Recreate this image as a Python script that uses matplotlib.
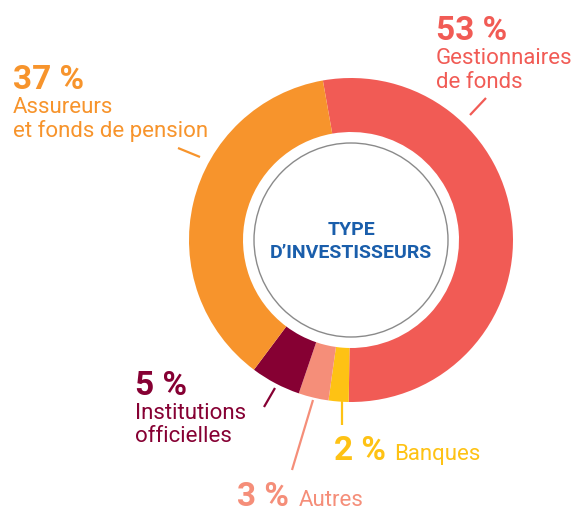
import matplotlib.pyplot as plt
from matplotlib.patches import Circle

W, H = 577, 507

# data
labels = [["Gestionnaires", "de fonds"], ["Banques"], ["Autres"],
          ["Institutions", "officielles"], ["Assureurs", "et fonds de pension"]]
values = [53, 2, 3, 5, 37]
colors = ["#F15B55", "#FEC214", "#F58E79", "#860033", "#F7942C"]

fig = plt.figure(figsize=(W / 100, H / 100), dpi=100)
ax = fig.add_axes([0, 0, 1, 1])

cx, cy = 351, H - 240
R = 162

ax.pie(values, colors=colors, startangle=100, counterclock=False,
       center=(cx, cy), radius=R,
       wedgeprops=dict(width=R - 108, linewidth=0))
ax.add_patch(Circle((cx, cy), 97, fill=False, edgecolor="#8a8a8a", linewidth=1))

ax.set_xlim(0, W)
ax.set_ylim(0, H)
ax.set_aspect("auto")
ax.axis("off")

fam = ["Roboto", "DejaVu Sans"]
big = 24
small = 16

def label(x, y, pct, lines, color, inline=None):
    ax.text(x, H - y, f"{pct} %", color=color, fontsize=big, fontweight="bold",
            family=fam, ha="left", va="baseline")
    if inline is not None:
        ax.text(inline, H - y, lines[0], color=color, fontsize=small, family=fam,
                ha="left", va="baseline")
    else:
        for i, line in enumerate(lines):
            ax.text(x, H - y - 24 - 23.5 * i, line, color=color, fontsize=small,
                    family=fam, ha="left", va="baseline")

def leader(x0, y0, x1, y1, color):
    ax.plot([x0, x1], [H - y0, H - y1], color=color, linewidth=1.6,
            solid_capstyle="butt")

label(436, 40, values[0], labels[0], colors[0])
leader(470, 115, 486, 98, colors[0])

label(13, 89, values[4], labels[4], colors[4])
leader(178, 148, 200, 157, colors[4])

label(135, 395, values[3], labels[3], colors[3])
leader(264, 407, 275, 388, colors[3])

label(334, 460, values[1], labels[1], colors[1], inline=394)
leader(342, 401, 342, 425, colors[1])

label(237, 506, values[2], labels[2], colors[2], inline=299)
leader(292, 470, 313, 400, colors[2])

ax.text(cx, H - 230, "TYPE", color="#1A5EAB", fontsize=14, fontweight="bold",
        family=fam, ha="center", va="center")
ax.text(cx, H - 253, "D\u2019INVESTISSEURS", color="#1A5EAB", fontsize=14,
        fontweight="bold", family=fam, ha="center", va="center")

fig.savefig("out.png", dpi=100)
